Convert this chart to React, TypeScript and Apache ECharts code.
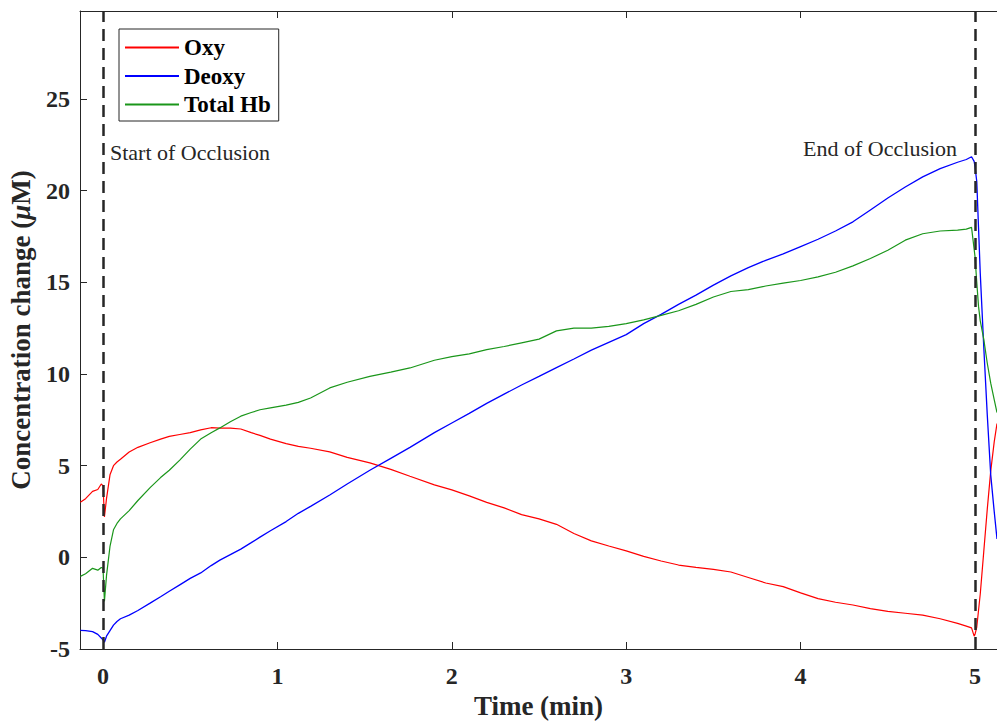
import React, { useEffect, useRef } from "react";
import * as echarts from "echarts";

const timeMin = [-0.13, -0.1, -0.06, -0.03, -0.01, 0.0, 0.008, 0.02, 0.04, 0.06, 0.08, 0.1, 0.15, 0.2, 0.27, 0.33, 0.38, 0.44, 0.5, 0.56, 0.62, 0.67, 0.73, 0.79, 0.85, 0.9, 0.96, 1.05, 1.12, 1.19, 1.3, 1.4, 1.53, 1.65, 1.76, 1.9, 2.0, 2.1, 2.2, 2.3, 2.4, 2.5, 2.6, 2.7, 2.8, 2.9, 3.0, 3.1, 3.2, 3.3, 3.4, 3.5, 3.6, 3.7, 3.8, 3.9, 4.0, 4.1, 4.2, 4.3, 4.4, 4.5, 4.6, 4.7, 4.8, 4.9, 4.95, 4.98, 4.995, 5.0, 5.01, 5.02, 5.03, 5.05, 5.07, 5.09, 5.11, 5.126];

const oxy = [3.0, 3.2, 3.6, 3.7, 4.0, 3.9, 2.2, 3.2, 4.5, 5.0, 5.2, 5.35, 5.75, 6.0, 6.25, 6.45, 6.6, 6.7, 6.8, 6.95, 7.07, 7.05, 7.05, 7.0, 6.8, 6.65, 6.45, 6.2, 6.05, 5.95, 5.75, 5.45, 5.15, 4.8, 4.42, 3.95, 3.68, 3.35, 3.0, 2.7, 2.33, 2.1, 1.8, 1.3, 0.9, 0.62, 0.35, 0.05, -0.2, -0.42, -0.55, -0.66, -0.8, -1.1, -1.4, -1.6, -1.94, -2.25, -2.45, -2.6, -2.8, -2.95, -3.05, -3.15, -3.35, -3.6, -3.75, -3.85, -4.3, -4.2, -3.8, -2.9, -2.0, 0.3, 2.6, 4.7, 6.3, 7.3];

const deoxy = [-3.98, -4.0, -4.05, -4.2, -4.4, -4.5, -4.63, -4.3, -4.0, -3.7, -3.5, -3.35, -3.15, -2.9, -2.5, -2.15, -1.85, -1.5, -1.15, -0.85, -0.45, -0.15, 0.15, 0.45, 0.8, 1.1, 1.45, 1.95, 2.4, 2.78, 3.4, 4.0, 4.75, 5.4, 6.0, 6.8, 7.33, 7.85, 8.4, 8.9, 9.4, 9.87, 10.35, 10.82, 11.3, 11.73, 12.15, 12.75, 13.25, 13.8, 14.3, 14.85, 15.35, 15.8, 16.2, 16.55, 16.95, 17.35, 17.8, 18.3, 18.95, 19.6, 20.2, 20.75, 21.2, 21.55, 21.7, 21.85, 21.6, 21.3, 20.5, 18.0, 15.5, 11.5, 7.8, 4.5, 2.5, 1.0];

const totalHb = [-1.04, -0.9, -0.6, -0.7, -0.55, -0.6, -2.4, -1.0, 0.6, 1.5, 1.85, 2.1, 2.55, 3.1, 3.8, 4.35, 4.75, 5.3, 5.9, 6.45, 6.8, 7.06, 7.4, 7.7, 7.9, 8.05, 8.15, 8.3, 8.45, 8.69, 9.24, 9.55, 9.87, 10.1, 10.33, 10.75, 10.95, 11.1, 11.33, 11.5, 11.7, 11.9, 12.35, 12.5, 12.5, 12.6, 12.75, 12.95, 13.2, 13.45, 13.8, 14.2, 14.5, 14.6, 14.8, 14.96, 15.1, 15.3, 15.55, 15.9, 16.3, 16.75, 17.3, 17.65, 17.8, 17.85, 17.9, 18.0, 16.8, 16.4, 15.0, 13.7, 12.9, 11.9, 10.6, 9.5, 8.6, 7.9];

const xTicks = [0, 1, 2, 3, 4, 5];
const yTicks = [-5, 0, 5, 10, 15, 20, 25];
const occlusionMarks = [0, 5];
const annotations = [
  { text: "Start of Occlusion", coord: [0.04, 22.1], side: "right" },
  { text: "End of Occlusion", coord: [4.897, 22.3], side: "left" },
];

const FONT = "'Liberation Serif', 'Times New Roman', serif";
const AX = "#262626";

export default function App() {
  const ref = useRef<HTMLDivElement>(null);
  useEffect(() => {
    if (!ref.current) return;
    const chart = echarts.init(ref.current, undefined, { renderer: "svg" });
    const pairs = (ys: number[]) => timeMin.map((t, i) => [t, ys[i]]);
    const baseLine = { type: "line", showSymbol: false, symbol: "none", clip: true, z: 2 };
    chart.setOption({
      animation: false,
      backgroundColor: "#ffffff",
      grid: { left: 80, top: 11, right: 0, bottom: 73, containLabel: false, outerBoundsMode: "none" },
      legend: {
        left: 119,
        top: 29,
        orient: "vertical",
        padding: [7, 8, 5, 5],
        itemGap: 5.5,
        itemWidth: 54,
        itemHeight: 12,
        borderColor: AX,
        borderWidth: 1,
        backgroundColor: "#ffffff",
        itemStyle: { opacity: 0 },
        textStyle: { fontFamily: FONT, fontWeight: "bold", fontSize: 23, color: "#000000" },
        data: ["Oxy", "Deoxy", "Total Hb"],
      },
      xAxis: [
        {
          type: "value",
          min: -0.132,
          max: 5.126,
          position: "bottom",
          name: "Time (min)",
          nameLocation: "middle",
          nameGap: 42,
          nameTextStyle: { fontFamily: FONT, fontWeight: "bold", fontSize: 27, color: AX },
          axisLine: { show: true, onZero: false, lineStyle: { color: AX, width: 1 } },
          axisTick: { show: true, inside: true, length: 7, customValues: xTicks, lineStyle: { color: AX } },
          axisLabel: { customValues: xTicks, fontFamily: FONT, fontWeight: "bold", fontSize: 24, color: AX, margin: 15 },
          splitLine: { show: false },
        },
        {
          type: "value",
          min: -0.132,
          max: 5.126,
          position: "top",
          axisLine: { show: true, onZero: false, lineStyle: { color: AX, width: 1 } },
          axisTick: { show: true, inside: true, length: 7, customValues: xTicks, lineStyle: { color: AX } },
          axisLabel: { show: false },
          splitLine: { show: false },
        },
      ],
      yAxis: {
        type: "value",
        min: -5,
        max: 29.8,
        name: "Concentration change ({i|μ}M)",
        nameLocation: "middle",
        nameGap: 46,
        nameTextStyle: {
          fontFamily: FONT,
          fontWeight: "bold",
          fontSize: 27,
          color: AX,
          rich: { i: { fontFamily: FONT, fontWeight: "bold", fontStyle: "italic", fontSize: 27, color: AX } },
        },
        axisLine: { show: true, onZero: false, lineStyle: { color: AX, width: 1 } },
        axisTick: { show: true, inside: true, length: 7, customValues: yTicks, lineStyle: { color: AX } },
        axisLabel: { customValues: yTicks, fontFamily: FONT, fontWeight: "bold", fontSize: 24, color: AX, margin: 10 },
        splitLine: { show: false },
      },
      series: [
        {
          ...baseLine,
          name: "Oxy",
          data: pairs(oxy),
          lineStyle: { color: "#ff0000", width: 1.2 },
          itemStyle: { color: "#ff0000" },
          markLine: {
            silent: true,
            symbol: ["none", "none"],
            label: { show: false },
            lineStyle: { color: AX, type: [12, 7], width: 2.5 },
            data: occlusionMarks.map((v) => ({ xAxis: v })),
            z: 5,
          },
          markPoint: {
            silent: true,
            symbol: "circle",
            symbolSize: 0,
            data: annotations.map((a) => ({
              coord: a.coord,
              label: {
                show: true,
                formatter: a.text,
                position: a.side,
                distance: 0,
                fontFamily: FONT,
                fontSize: 22,
                color: AX,
              },
            })),
          },
        },
        {
          ...baseLine,
          name: "Deoxy",
          data: pairs(deoxy),
          lineStyle: { color: "#0000ff", width: 1.3 },
          itemStyle: { color: "#0000ff" },
        },
        {
          ...baseLine,
          name: "Total Hb",
          data: pairs(totalHb),
          lineStyle: { color: "#1a961a", width: 1.2 },
          itemStyle: { color: "#1a961a" },
        },
      ],
    });
    return () => chart.dispose();
  }, []);
  return <div ref={ref} style={{ position: "absolute", left: 0, top: 0, width: 997, height: 722 }} />;
}
